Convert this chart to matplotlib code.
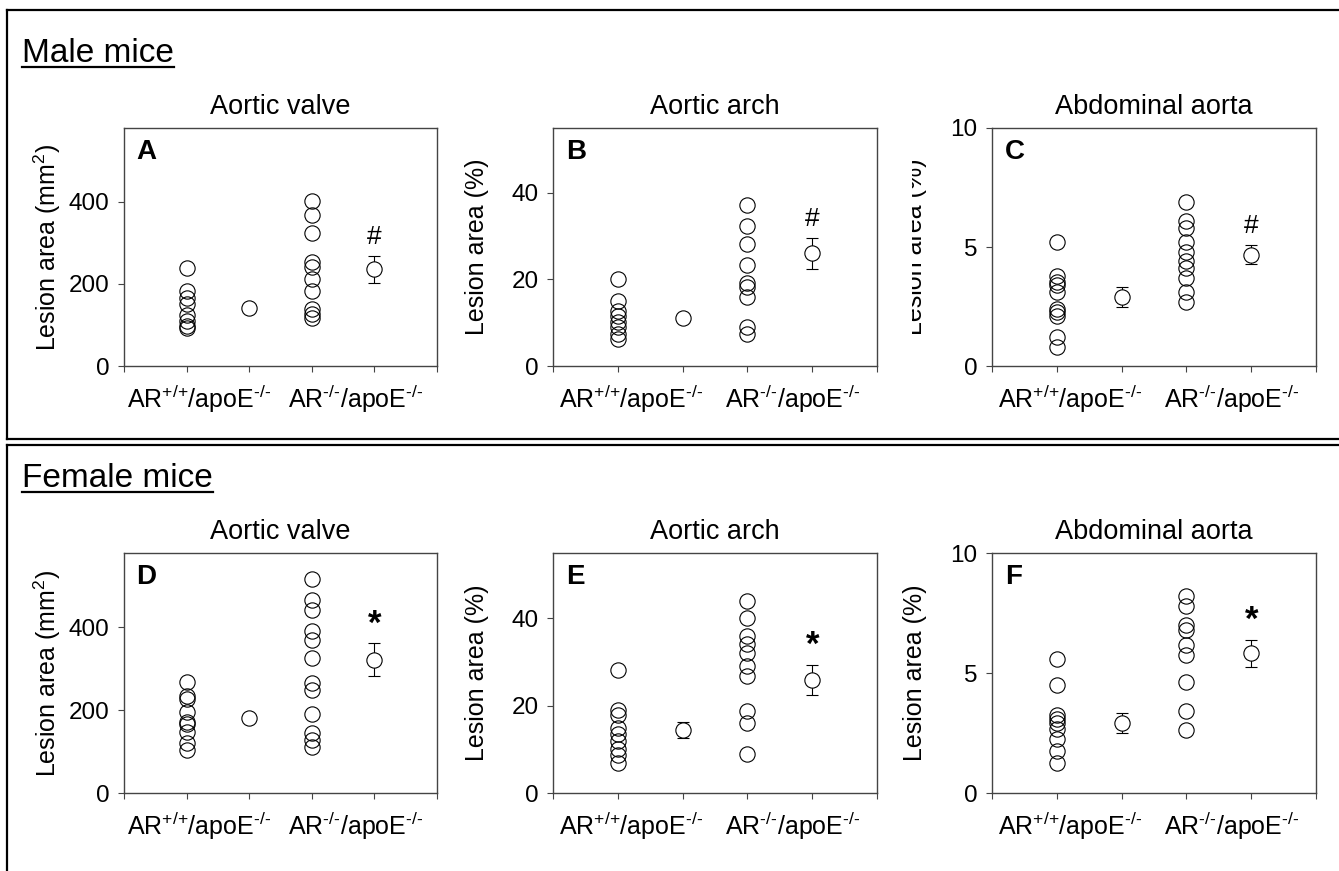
import matplotlib.pyplot as plt
from matplotlib.lines import Line2D
from matplotlib.transforms import Bbox, TransformedBbox

plt.rcParams['font.family'] = ['Liberation Sans', 'DejaVu Sans']
plt.rcParams['mathtext.fontset'] = 'custom'
plt.rcParams['mathtext.rm'] = 'Liberation Sans'
plt.rcParams['mathtext.it'] = 'Liberation Sans:italic'
plt.rcParams['mathtext.bf'] = 'Liberation Sans:bold'

W, H = 1339, 871

# data
group_labels = [r'AR$^{\text{+/+}}$/apoE$^{\text{-/-}}$', r'AR$^{\text{-/-}}$/apoE$^{\text{-/-}}$']
sections = ['Male mice', 'Female mice']
titles = ['Aortic valve', 'Aortic arch', 'Abdominal aorta']
letters = ['A', 'B', 'C', 'D', 'E', 'F']
ylabels = [r'Lesion area (mm$^2$)', 'Lesion area (%)', 'Lesion area (%)']
marks = ['#', '*']

male_valve_wt = [238, 182, 165, 150, 125, 110, 98, 92]
male_valve_ko = [402, 369, 323, 254, 242, 211, 183, 139, 127, 117]
male_valve_mean = [141, 236]
male_valve_sem = [10, 33]

male_arch_wt = [20.2, 15.0, 12.8, 11.5, 10.2, 9.0, 7.5, 6.3]
male_arch_ko = [37.3, 32.3, 28.1, 23.3, 19.2, 18.3, 15.9, 9.0, 7.4]
male_arch_mean = [11.2, 26.0]
male_arch_sem = [0.9, 3.5]

male_abd_wt = [5.2, 3.8, 3.55, 3.4, 3.1, 2.4, 2.26, 2.1, 1.2, 0.8]
male_abd_ko = [6.9, 6.08, 5.8, 5.2, 4.8, 4.4, 4.1, 3.7, 3.1, 2.7]
male_abd_mean = [2.9, 4.68]
male_abd_sem = [0.43, 0.40]

female_valve_wt = [269, 234, 226, 196, 172, 166, 148, 120, 104]
female_valve_ko = [516, 467, 442, 391, 369, 326, 267, 249, 192, 146, 128, 110]
female_valve_mean = [181, 322]
female_valve_sem = [8, 40]

female_arch_wt = [28.1, 19.0, 17.9, 15.0, 13.6, 11.9, 10.0, 8.8, 6.9]
female_arch_ko = [44.0, 40.0, 36.0, 34.1, 32.1, 29.1, 26.9, 18.8, 16.0, 9.0]
female_arch_mean = [14.4, 25.9]
female_arch_sem = [1.8, 3.5]

female_abd_wt = [5.6, 4.51, 3.26, 3.09, 2.92, 2.65, 2.23, 1.73, 1.24]
female_abd_ko = [8.2, 7.8, 7.0, 6.8, 6.18, 5.77, 4.62, 3.41, 2.63]
female_abd_mean = [2.92, 5.82]
female_abd_sem = [0.42, 0.57]

ylims = [580, 55, 10]
yticks = [[0, 200, 400], [0, 20, 40], [0, 5, 10]]

panels = [
    (male_valve_wt, male_valve_ko, male_valve_mean, male_valve_sem),
    (male_arch_wt, male_arch_ko, male_arch_mean, male_arch_sem),
    (male_abd_wt, male_abd_ko, male_abd_mean, male_abd_sem),
    (female_valve_wt, female_valve_ko, female_valve_mean, female_valve_sem),
    (female_arch_wt, female_arch_ko, female_arch_mean, female_arch_sem),
    (female_abd_wt, female_abd_ko, female_abd_mean, female_abd_sem),
]

# layout in pixels
cols = [(124, 437), (553, 877), (992, 1316)]
rows = [(128, 366), (553, 793)]
ylabel_x = [47, 477, 915]
header_y = [62, 487]


def fx(x):
    return x / W


def fy(y):
    return 1 - y / H


fig = plt.figure(figsize=(W / 100, H / 100), dpi=100)
edge = '#444444'

for i, (wt, ko, mean, sem) in enumerate(panels):
    r, c = divmod(i, 3)
    x0, x1 = cols[c]
    top, bot = rows[r]
    ax = fig.add_axes([fx(x0), fy(bot), fx(x1 - x0), (bot - top) / H])

    ax.plot([1] * len(wt), wt, 'o', ms=11, mfc='none', mec='black', mew=0.8, clip_on=False)
    ax.plot([3] * len(ko), ko, 'o', ms=11, mfc='none', mec='black', mew=0.8, clip_on=False)
    ax.errorbar([2, 4], mean, yerr=sem, fmt='none', ecolor='black', elinewidth=0.8,
                capsize=4, capthick=0.8, zorder=2)
    ax.plot([2, 4], mean, 'o', ms=11, mfc='white', mec='black', mew=0.8, zorder=3)
    ax.annotate(marks[r], xy=(4, mean[1] + sem[1]), xytext=(0, 19),
                textcoords='offset pixels', ha='center', va='center',
                fontsize=19 if r == 0 else 25, fontweight='normal' if r == 0 else 'bold')

    ax.set_xlim(0, 5)
    ax.set_ylim(0, ylims[c])
    ax.set_yticks(yticks[c])
    ax.set_xticks(range(6))
    ax.set_xticklabels([])
    ax.set_xticks([1.2, 3.7], group_labels, minor=True)
    ax.tick_params(axis='x', which='major', direction='out', length=4, width=0.8, color=edge)
    ax.tick_params(axis='x', which='minor', length=0, pad=12, labelsize=18)
    ax.tick_params(axis='y', direction='out', length=4.5, width=0.8, color=edge, labelsize=17.5, pad=6)
    for s in ax.spines.values():
        s.set_color(edge)
        s.set_linewidth(1.0)

    ax.text(0.04, 0.955, letters[i], transform=ax.transAxes, ha='left', va='top',
            fontsize=20, fontweight='bold')
    ax.set_title(titles[c], fontsize=19.5, pad=10)

    lab = fig.text(fx(ylabel_x[c]), fy((top + bot) / 2), ylabels[c], rotation=90,
                   ha='center', va='center', fontsize=18)
    if i == 2:
        # the label of panel C is cut in the original
        lab.set_clip_box(TransformedBbox(Bbox([[fx(912), 0], [fx(940), 1]]), fig.transFigure))
        lab.set_clip_on(True)

# section headers with underline
fig.canvas.draw()
renderer = fig.canvas.get_renderer()
for name, yb in zip(sections, header_y):
    t = fig.text(fx(22), fy(yb), name, ha='left', va='baseline', fontsize=24)
    bb = t.get_window_extent(renderer)
    fig.add_artist(Line2D([bb.x0 / W, bb.x1 / W], [fy(yb + 5)] * 2, color='black', lw=1.6))

# frame lines around the two groups
frame = [
    ([7, W], [10, 10]),
    ([7, 7], [10, 439]),
    ([7, W], [439, 439]),
    ([7, W], [445, 445]),
    ([7, 7], [445, H]),
]
for xs, ys in frame:
    fig.add_artist(Line2D([fx(v) for v in xs], [fy(v) for v in ys], color='black', lw=1.6))

fig.savefig('out.png', dpi=100)
